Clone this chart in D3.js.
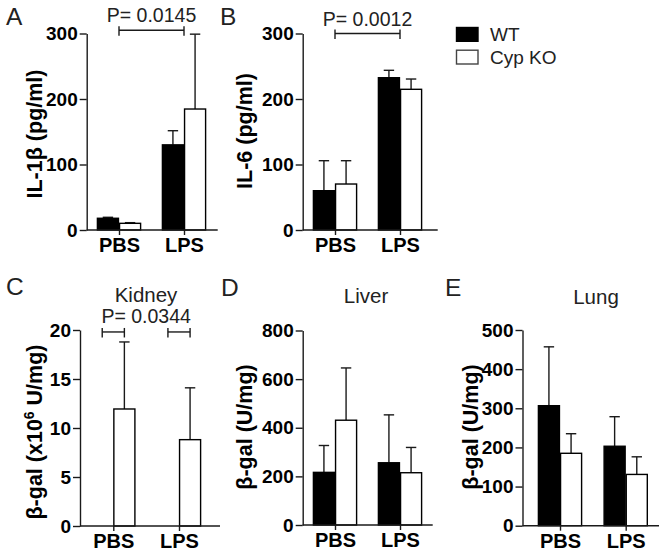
<!DOCTYPE html>
<html><head><meta charset="utf-8">
<script src="https://cdn.jsdelivr.net/npm/d3@7"></script>
<style>
body{margin:0;background:#fff;}
svg{display:block;font-family:"Liberation Sans",Arial,Helvetica,sans-serif;}
</style></head>
<body>
<script>
// ---------- data ----------
const categories = ["PBS", "LPS"];
const series = ["WT", "Cyp KO"];

const il1bWT = [17.9, 130];     const il1bWTErr = [1.5, 21.6];
const il1bKO = [10.2, 184.7];   const il1bKOErr = [1, 114.3];

const il6WT = [60, 232.5];      const il6WTErr = [45.8, 11.3];
const il6KO = [70.2, 214.8];    const il6KOErr = [35.6, 15.7];

const kidneyWT = [0, 0];        const kidneyWTErr = [0, 0];
const kidneyKO = [11.94, 8.81]; const kidneyKOErr = [6.84, 5.29];

const liverWT = [216.5, 256];   const liverWTErr = [110.5, 197];
const liverKO = [431, 215];     const liverKOErr = [215, 104];

const lungWT = [306.6, 203];    const lungWTErr = [150.4, 75.5];
const lungKO = [185, 131];      const lungKOErr = [50, 45];

const ticksIL = [0, 100, 200, 300];
const ticksKidney = [0, 5, 10, 15, 20];
const ticksLiver = [0, 200, 400, 600, 800];
const ticksLung = [0, 100, 200, 300, 400, 500];

const pA = "P= 0.0145", pB = "P= 0.0012", pC = "P= 0.0344";

// ---------- layout ----------
const W = 664, H = 555;
const svg = d3.select("body").append("svg").attr("width", W).attr("height", H);

const panels = [
  {letter:"A", lx:6, ly:25, ax:86.7, y0:230, yT:33.5, max:300, ticks:ticksIL, len:131, c1:32.3, c2:97.3,
   ytitle:"IL-1β (pg/ml)", tx:42, ty:134, wt:il1bWT, wtE:il1bWTErr, ko:il1bKO, koE:il1bKOErr,
   bracket:{type:"between", yv:305, text:pA, tyb:21.5}},
  {letter:"B", lx:220, ly:25, ax:302.7, y0:230, yT:33.5, max:300, ticks:ticksIL, len:135, c1:32.3, c2:97.3,
   ytitle:"IL-6 (pg/ml)", tx:252, ty:131, wt:il6WT, wtE:il6WTErr, ko:il6KO, koE:il6KOErr,
   bracket:{type:"between", yv:300, text:pB, tyb:26}},
  {letter:"C", lx:6, ly:295, ax:80, y0:526, yT:330, max:20, ticks:ticksKidney, len:140, c1:33.3, c2:99,
   ytitle:null, tx:42, ty:432, wt:kidneyWT, wtE:kidneyWTErr, ko:kidneyKO, koE:kidneyKOErr,
   title:"Kidney", titleX:146, titleY:301.5,
   bracket:{type:"within", yv:19.8, text:pC, tyb:323.3}},
  {letter:"D", lx:221, ly:296, ax:302.7, y0:525, yT:330.5, max:800, ticks:ticksLiver, len:130, c1:32.3, c2:97.3,
   ytitle:"β-gal (U/mg)", tx:252, ty:427, wt:liverWT, wtE:liverWTErr, ko:liverKO, koE:liverKOErr,
   title:"Liver", titleX:366, titleY:302.5},
  {letter:"E", lx:445, ly:296, ax:522.5, y0:525.7, yT:330, max:500, ticks:ticksLung, len:136.5, c1:37.5, c2:103.2,
   ytitle:"β-gal (U/mg)", tx:478, ty:427, wt:lungWT, wtE:lungWTErr, ko:lungKO, koE:lungKOErr,
   title:"Lung", titleX:596, titleY:303.5}
];

const ink = "#1a1a1a";
const fills = {"WT":"#000", "Cyp KO":"#fff"};

panels.forEach(p => {
  const g = svg.append("g");
  const y = d3.scaleLinear().domain([0, p.max]).range([p.y0, p.yT]);
  const x = d3.scalePoint().domain(categories).range([p.ax + p.c1, p.ax + p.c2]);
  const xs = d3.scaleBand().domain(series).range([-21.6, 21.6]).paddingInner(0.05);

  g.append("text").attr("x", p.lx).attr("y", p.ly).attr("font-size", 24.5).attr("fill", "#222").text(p.letter);

  if (p.title) g.append("text").attr("x", p.titleX).attr("y", p.titleY).attr("text-anchor","middle")
     .attr("font-size", 20.5).attr("fill", "#222").text(p.title);

  const rows = [];
  categories.forEach((c, i) => {
    rows.push({c, s:"WT", v:p.wt[i], e:p.wtE[i]});
    rows.push({c, s:"Cyp KO", v:p.ko[i], e:p.koE[i]});
  });
  const vis = rows.filter(r => r.v > 0);
  vis.filter(r => r.e > 0).forEach(r => {
    const cx = x(r.c) + xs(r.s) + xs.bandwidth()/2;
    g.append("line").attr("x1", cx).attr("x2", cx).attr("y1", y(r.v)).attr("y2", y(r.v + r.e))
      .attr("stroke", ink).attr("stroke-width", 1.4);
    g.append("line").attr("x1", cx - 5.2).attr("x2", cx + 5.2).attr("y1", y(r.v + r.e)).attr("y2", y(r.v + r.e))
      .attr("stroke", ink).attr("stroke-width", 1.4);
  });
  g.selectAll("rect.bar").data(vis).join("rect").attr("class","bar")
    .attr("x", r => x(r.c) + xs(r.s))
    .attr("width", xs.bandwidth())
    .attr("y", r => y(r.v))
    .attr("height", r => p.y0 - y(r.v))
    .attr("fill", r => fills[r.s])
    .attr("stroke", "#000").attr("stroke-width", 1.4);

  const ya = g.append("g").attr("transform", `translate(${p.ax},0)`)
    .call(d3.axisLeft(y).tickValues(p.ticks).tickSize(7).tickSizeOuter(0).tickPadding(2).tickFormat(d3.format("d")));
  ya.select(".domain").attr("stroke", ink).attr("stroke-width", 1.4);
  ya.selectAll(".tick line").attr("stroke", ink).attr("stroke-width", 1.4);
  ya.selectAll(".tick text").attr("font-size", 19).attr("font-weight", "bold").attr("fill", "#000")
    .attr("font-family", "'Liberation Sans',Arial,sans-serif");

  g.append("line").attr("x1", p.ax).attr("x2", p.ax + p.len).attr("y1", p.y0).attr("y2", p.y0)
    .attr("stroke", ink).attr("stroke-width", 1.4);
  const xa = g.append("g").attr("transform", `translate(0,${p.y0})`)
    .call(d3.axisBottom(x).tickSize(5).tickSizeOuter(0).tickPadding(4));
  xa.select(".domain").remove();
  xa.selectAll(".tick line").attr("stroke", ink).attr("stroke-width", 1.4);
  xa.selectAll(".tick text").attr("font-size", 20).attr("font-weight", "bold").attr("fill", "#000")
    .attr("font-family", "'Liberation Sans',Arial,sans-serif").attr("dy", null).attr("y", 22);

  const yt = g.append("text").attr("transform", `translate(${p.tx},${p.ty}) rotate(-90)`)
    .attr("text-anchor", "middle").attr("font-size", 21.5).attr("font-weight", "bold").attr("fill", "#000");
  if (p.ytitle) yt.text(p.ytitle);
  else {
    yt.append("tspan").text("β-gal (x10");
    yt.append("tspan").attr("font-size", 14).attr("dy", -8).text("6");
    yt.append("tspan").attr("dy", 8).text(" U/mg)");
  }

  if (p.bracket) {
    const b = p.bracket;
    const by = y(b.yv);
    const drawBr = (x1, x2) => {
      g.append("line").attr("x1", x1).attr("x2", x2).attr("y1", by).attr("y2", by).attr("stroke", ink).attr("stroke-width", 1.4);
      [x1, x2].forEach(xx => g.append("line").attr("x1", xx).attr("x2", xx).attr("y1", by - 4).attr("y2", by + 5.5)
        .attr("stroke", ink).attr("stroke-width", 1.4));
    };
    if (b.type === "between") {
      drawBr(x("PBS"), x("LPS"));
    } else {
      categories.forEach(c => drawBr(x(c) + xs("WT") + xs.bandwidth()/2, x(c) + xs("Cyp KO") + xs.bandwidth()/2));
    }
    g.append("text").attr("x", (x("PBS") + x("LPS"))/2).attr("y", b.tyb).attr("text-anchor","middle")
      .attr("font-size", 19.5).attr("fill", "#222").text(b.text);
  }
});

const leg = svg.append("g");
series.forEach((s, i) => {
  leg.append("rect").attr("x", 456.5).attr("y", 27.5 + i*22.7).attr("width", 21.5).attr("height", 13.8)
    .attr("fill", fills[s]).attr("stroke", i === 0 ? "#000" : "#444").attr("stroke-width", 1.4);
  leg.append("text").attr("x", 490).attr("y", 41 + i*22.7).attr("font-size", 19).attr("fill", "#222").text(s);
});
</script>
</body></html>
